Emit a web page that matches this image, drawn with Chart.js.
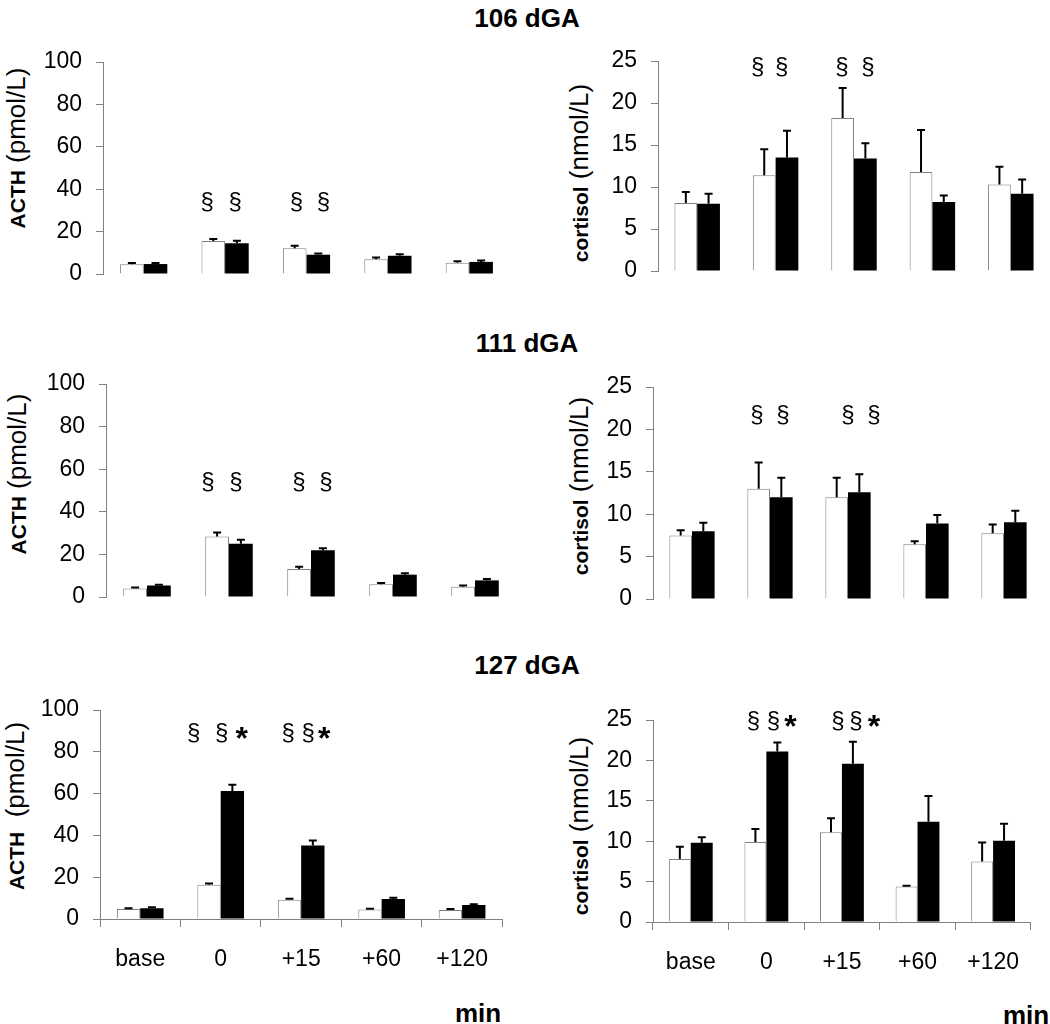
<!DOCTYPE html>
<html lang="en">
<head>
<meta charset="UTF-8">
<title>ACTH and cortisol, 106 / 111 / 127 dGA</title>
<script src="https://cdn.jsdelivr.net/npm/chart.js@4.4.1/dist/chart.umd.min.js"></script>
<style>
  body { margin: 0; background: #fff; font-family: Arial, "Liberation Sans", sans-serif; color: #000; }
  #page { position: relative; width: 1050px; height: 1024px; overflow: hidden; }
  .panel { position: absolute; }
  .title { position: absolute; font-weight: bold; font-size: 26px; transform: translate(-50%, -50%); white-space: nowrap; }
  .ytitle { position: absolute; font-size: 26px; transform: translate(-50%, -50%) rotate(-90deg); white-space: nowrap; }
  .ytitle b { font-size: 21px; }
  .unit { position: absolute; font-weight: bold; font-size: 26px; transform: translate(-50%, -50%); }
</style>
</head>
<body>
<div id="page">
  <div class="title" style="left:527px; top:18px;">106 dGA</div>
  <div class="title" style="left:527px; top:343px;">111 dGA</div>
  <div class="title" style="left:527px; top:665px;">127 dGA</div>

  <div class="ytitle" style="left:16px; top:148px;"><b>ACTH</b> (pmol/L)</div>
  <div class="ytitle" style="left:17px; top:474px;"><b>ACTH</b> (pmol/L)</div>
  <div class="ytitle" style="left:15px; top:806px;"><b>ACTH</b>&nbsp; (pmol/L)</div>
  <div class="ytitle" style="left:579px; top:173px;"><b>cortisol</b> (nmol/L)</div>
  <div class="ytitle" style="left:579px; top:486px;"><b>cortisol</b> (nmol/L)</div>
  <div class="ytitle" style="left:579px; top:826px;"><b>cortisol</b> (nmol/L)</div>

  <div class="unit" style="left:478px; top:1013px;">min</div>
  <div class="unit" style="left:1026px; top:1015px;">min</div>
</div>

<script>
  // time points (x categories)
  const timePoints = ['base', '0', '+15', '+60', '+120'];

  // 106 dGA - white = control, black = treated; *Err = SEM above the bar
  const acth106Ctrl = [4.6, 15.6, 12.1, 6.9, 5.3];
  const acth106CtrlErr = [0.6, 0.9, 1.2, 0.9, 0.7];
  const acth106Trt = [4.7, 14.5, 9.1, 8.6, 5.7];
  const acth106TrtErr = [0.5, 1.2, 0.6, 0.7, 0.7];
  const cort106Ctrl = [8.1, 11.4, 18.2, 11.8, 10.3];
  const cort106CtrlErr = [1.3, 3.1, 3.6, 5.0, 2.1];
  const cort106Trt = [8.0, 13.5, 13.4, 8.2, 9.2];
  const cort106TrtErr = [1.2, 3.2, 1.8, 0.8, 1.7];

  // 111 dGA
  const acth111Ctrl = [4.0, 28.4, 13.1, 6.0, 4.8];
  const acth111CtrlErr = [0.5, 1.9, 1.1, 0.6, 0.6];
  const acth111Trt = [5.4, 25.0, 21.9, 10.5, 7.8];
  const acth111TrtErr = [0.4, 1.9, 1.0, 0.6, 0.6];
  const cort111Ctrl = [7.5, 13.0, 12.0, 6.45, 7.75];
  const cort111CtrlErr = [0.6, 3.1, 2.3, 0.35, 1.05];
  const cort111Trt = [8.0, 12.0, 12.6, 8.9, 9.05];
  const cort111TrtErr = [1.0, 2.3, 2.1, 1.0, 1.35];

  // 127 dGA
  const acth127Ctrl = [4.8, 16.4, 9.2, 4.5, 4.3];
  const acth127CtrlErr = [0.4, 0.6, 0.5, 0.4, 0.5];
  const acth127Trt = [5.1, 61.3, 35.2, 9.6, 6.7];
  const acth127TrtErr = [0.5, 2.9, 2.4, 0.6, 0.4];
  const cort127Ctrl = [7.8, 9.9, 11.1, 4.4, 7.5];
  const cort127CtrlErr = [1.5, 1.6, 1.75, 0.1, 2.35];
  const cort127Trt = [9.8, 21.1, 19.6, 12.4, 10.05];
  const cort127TrtErr = [0.7, 1.1, 2.7, 3.2, 2.1];

  // y axis ranges
  const acthMax = 100, acthStep = 20;
  const cortMax = 25, cortStep = 5;

  const FONT = 'Arial, "Liberation Sans", sans-serif';
  const Y_W = 60;     // fixed width of the y axis
  const X_H = 70;     // fixed height of the x axis (bottom row)
  const PAD_T = 36, PAD_B = 36;   // more than half a tick label + tick padding

  // error bars: vertical line from bar top up by the SEM, with a cap
  const errorBars = {
    id: 'errorBars',
    afterDatasetsDraw(chart) {
      const ctx = chart.ctx, y = chart.scales.y;
      ctx.save();
      ctx.strokeStyle = '#000';
      ctx.lineWidth = 2;
      chart.data.datasets.forEach((ds, i) => {
        chart.getDatasetMeta(i).data.forEach((bar, j) => {
          const top = y.getPixelForValue(ds.data[j] + ds.errors[j]);
          ctx.beginPath();
          ctx.moveTo(bar.x, bar.y);
          ctx.lineTo(bar.x, top);
          ctx.moveTo(bar.x - 4, top);
          ctx.lineTo(bar.x + 4, top);
          ctx.stroke();
        });
      });
      ctx.restore();
    }
  };

  // significance marks (§ and *) over the categories
  const sigMarks = {
    id: 'sigMarks',
    afterDraw(chart, args, opts) {
      const ctx = chart.ctx, x = chart.scales.x, y = chart.scales.y;
      const yy = y.getPixelForValue(opts.level);
      ctx.save();
      ctx.fillStyle = '#000';
      ctx.textAlign = 'center';
      ctx.textBaseline = 'middle';
      (opts.items || []).forEach(m => {
        const star = m.t === '*';
        ctx.font = star ? 'bold 32px ' + FONT : '24px ' + FONT;
        ctx.fillText(m.t, x.getPixelForValue(m.cat) + m.dx, yy + (star ? 7 : 0));
      });
      ctx.restore();
    }
  };

  const panels = [
    { axisX: 103, right: 510, top: 62, bottom: 274, yMax: acthMax, yStep: acthStep, showX: false,
      ctrl: acth106Ctrl, ctrlErr: acth106CtrlErr, trt: acth106Trt, trtErr: acth106TrtErr,
      level: 34, marks: [{cat: 1, dx: -18, t: '§'}, {cat: 1, dx: 10, t: '§'}, {cat: 2, dx: -10, t: '§'}, {cat: 2, dx: 17, t: '§'}] },
    { axisX: 658, right: 1050, top: 61, bottom: 271, yMax: cortMax, yStep: cortStep, showX: false,
      ctrl: cort106Ctrl, ctrlErr: cort106CtrlErr, trt: cort106Trt, trtErr: cort106TrtErr,
      level: 24.3, marks: [{cat: 1, dx: -18, t: '§'}, {cat: 1, dx: 6, t: '§'}, {cat: 2, dx: -12, t: '§'}, {cat: 2, dx: 14, t: '§'}] },
    { axisX: 106, right: 516, top: 384, bottom: 597, yMax: acthMax, yStep: acthStep, showX: false,
      ctrl: acth111Ctrl, ctrlErr: acth111CtrlErr, trt: acth111Trt, trtErr: acth111TrtErr,
      level: 54, marks: [{cat: 1, dx: -21, t: '§'}, {cat: 1, dx: 7, t: '§'}, {cat: 2, dx: -12, t: '§'}, {cat: 2, dx: 15, t: '§'}] },
    { axisX: 653, right: 1043, top: 387, bottom: 599, yMax: cortMax, yStep: cortStep, showX: false,
      ctrl: cort111Ctrl, ctrlErr: cort111CtrlErr, trt: cort111Trt, trtErr: cort111TrtErr,
      level: 21.7, marks: [{cat: 1, dx: -13, t: '§'}, {cat: 1, dx: 13, t: '§'}, {cat: 2, dx: 0, t: '§'}, {cat: 2, dx: 26, t: '§'}] },
    { axisX: 100, right: 507, top: 710, bottom: 919, yMax: acthMax, yStep: acthStep, showX: true,
      ctrl: acth127Ctrl, ctrlErr: acth127CtrlErr, trt: acth127Trt, trtErr: acth127TrtErr,
      level: 89, marks: [{cat: 1, dx: -27, t: '§'}, {cat: 1, dx: 1, t: '§'}, {cat: 1, dx: 21, t: '*'},
                         {cat: 2, dx: -13, t: '§'}, {cat: 2, dx: 7, t: '§'}, {cat: 2, dx: 23, t: '*'}] },
    { axisX: 653, right: 1038, top: 720, bottom: 922, yMax: cortMax, yStep: cortStep, showX: true,
      ctrl: cort127Ctrl, ctrlErr: cort127CtrlErr, trt: cort127Trt, trtErr: cort127TrtErr,
      level: 24.8, marks: [{cat: 1, dx: -13, t: '§'}, {cat: 1, dx: 7, t: '§'}, {cat: 1, dx: 24, t: '*'},
                           {cat: 2, dx: -4, t: '§'}, {cat: 2, dx: 14, t: '§'}, {cat: 2, dx: 32, t: '*'}] }
  ];

  function makePanel(p) {
    const left = p.axisX - Y_W;
    const width = p.right - left;
    const height = (p.bottom - p.top) + PAD_T + (p.showX ? X_H : PAD_B);
    const div = document.createElement('div');
    div.className = 'panel';
    div.style.left = left + 'px';
    div.style.top = (p.top - PAD_T) + 'px';
    const canvas = document.createElement('canvas');
    canvas.width = width;
    canvas.height = height;
    div.appendChild(canvas);
    document.getElementById('page').appendChild(div);

    new Chart(canvas, {
      type: 'bar',
      data: {
        labels: timePoints,
        datasets: [
          { data: p.ctrl, errors: p.ctrlErr, backgroundColor: '#fff', borderColor: '#808080', borderWidth: 1 },
          { data: p.trt, errors: p.trtErr, backgroundColor: '#000', borderWidth: 0 }
        ]
      },
      options: {
        responsive: false,
        animation: false,
        layout: { padding: { top: PAD_T, bottom: p.showX ? 0 : PAD_B, left: 0, right: 0 } },
        datasets: { bar: { categoryPercentage: 0.58, barPercentage: 1.0 } },
        plugins: {
          legend: { display: false },
          tooltip: { enabled: false },
          sigMarks: { level: p.level, items: p.marks }
        },
        scales: {
          x: {
            display: p.showX,
            grid: { offset: true, drawOnChartArea: false, color: '#808080', tickLength: 8 },
            border: { color: '#808080' },
            ticks: { color: '#000', font: { family: FONT, size: 23 }, padding: 19, maxRotation: 0, autoSkip: false },
            afterFit: s => { if (p.showX) s.height = X_H; }
          },
          y: {
            min: 0,
            max: p.yMax,
            ticks: { stepSize: p.yStep, color: '#000', font: { family: FONT, size: 23 }, padding: 14, autoSkip: false },
            grid: { drawOnChartArea: false, color: '#808080', tickLength: 7 },
            border: { color: '#808080' },
            afterFit: s => { s.width = Y_W; }
          }
        }
      },
      plugins: [errorBars, sigMarks]
    });
  }

  window.onload = function () {
    panels.forEach(makePanel);
  };
</script>
</body>
</html>
